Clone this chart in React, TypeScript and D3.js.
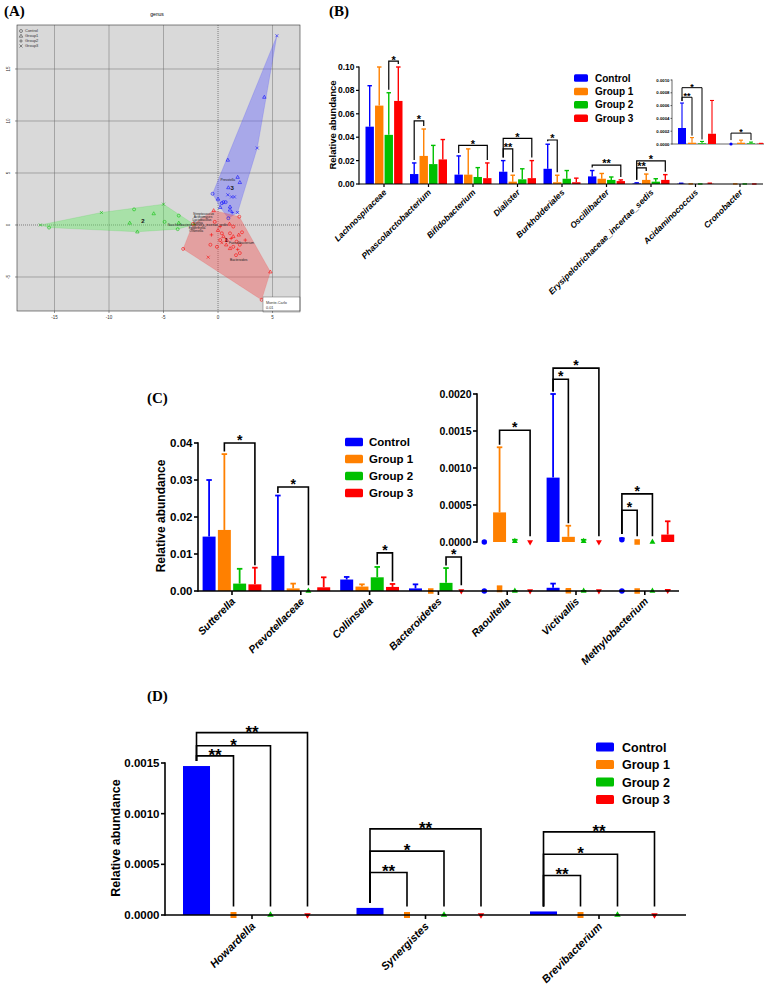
import React from 'react';
import * as d3 from 'd3';

const FONT = "'Liberation Sans', Arial, Helvetica, sans-serif";
const SERIF = "'Liberation Serif', 'Times New Roman', serif";

const groupNames = ['Control', 'Group 1', 'Group 2', 'Group 3'];
const groupColors = ['#0000ff', '#ff8000', '#00c000', '#ff0000'];
const groupSymbols = ['circle', 'square', 'triangle', 'triangleDown'];

// ---------------- Panel A (PCA-like scatter) ----------------
const aXTicks = [-15, -10, -5, 0, 5];
const aYTicks = [-5, 0, 5, 10, 15];
const aLegend = ['Control', 'Group1', 'Group2', 'Group3'];
// [x, y, shape] shape: 0 circle, 1 triangle, 2 plus, 3 cross
const aCluster3 = [
  [5.4, 18.2, 3], [4.25, 12.3, 1], [3.6, 7.4, 3], [0.9, 6.25, 1], [1.8, 4.6, 1], [2.0, 4.1, 1],
  [0.95, 3.6, 1], [-0.5, 3.0, 0], [0.9, 2.9, 3], [1.25, 2.7, 3], [1.5, 2.7, 3], [0.0, 2.5, 1],
  [0.35, 2.1, 0], [0.5, 2.2, 0], [0.7, 2.2, 0], [1.1, 1.75, 1], [1.1, 1.45, 1], [1.8, 1.2, 3],
  [0.95, 0.65, 0], [1.3, 1.2, 2], [0.2, 1.7, 1],
];
const aCluster2 = [
  [-16.3, 0.0, 3], [-15.5, -0.25, 0], [-10.7, 1.2, 3], [-7.7, 1.5, 0], [-5.9, 1.1, 1], [-5.0, 2.0, 3],
  [-8.1, 0.2, 1], [-7.4, -0.65, 1], [-4.9, 0.3, 0], [-3.6, 0.9, 0], [-3.6, 0.2, 1], [-3.7, -0.4, 0],
  [-2.2, 0.05, 2],
];
const aCluster1 = [
  [-0.4, 1.4, 1], [1.95, 0.8, 0], [4.8, -4.5, 1], [4.0, -7.2, 0], [-3.2, -2.3, 0], [-2.3, 0.1, 0],
  [-0.9, -3.1, 3], [-0.7, -1.9, 0], [-0.6, -0.95, 2], [0.0, -0.5, 1], [0.2, -0.15, 2], [0.35, -0.8, 0],
  [0.5, -1.1, 1], [0.8, -1.45, 1], [1.1, -0.8, 0], [1.2, -1.3, 2], [1.4, -1.1, 1], [1.7, -1.6, 0],
  [1.9, -0.95, 1], [2.2, -0.7, 0], [2.5, -1.45, 2], [1.4, -2.1, 0], [1.1, -2.25, 1], [1.8, -2.35, 2],
  [2.0, -2.7, 0], [1.65, -2.9, 0], [-0.1, -2.1, 0], [0.35, -1.7, 3], [-0.3, 0.3, 0], [1.05, 0.1, 1],
  [1.4, -0.15, 0], [0.2, -1.45, 0], [0.75, -1.9, 1], [2.0, -1.9, 0],
];
// [label, x, y]
const aTaxa = [
  ['Prevotella', 0.9, 4.3], ['Streptococcus', -1.33, 1.06], ['Actinomyces', -1.38, 0.77],
  ['Lactobacillus', -1.47, 0.48], ['Rothia', -1.83, 0.2], ['Saccharibacteria_genera_incertae_sedis', -1.88, -0.02],
  ['Eggerthella', -1.93, -0.29], ['Olsenella', -2.0, -0.58], ['Faecalibacterium', 2.15, -1.75], ['Bacteroides', 1.9, -3.37],
];
// [label, x, y]
const aClusterLabels = [['3', 1.3, 3.6], ['2', -6.9, 0.4], ['1', 0.75, -1.45]];

// ---------------- Panel B ----------------
const bCats = ['Lachnospiraceae', 'Phascolarctobacterium', 'Bifidobacterium', 'Dialister', 'Burkholderiales',
  'Oscillibacter', 'Erysipelotrichaceae_incertae_sedis', 'Acidaminococcus', 'Cronobacter'];
const bControlMean = [0.049, 0.0085, 0.008, 0.0105, 0.013, 0.0065, 0.0005, 0.00025, 0];
const bControlSD = [0.035, 0.0095, 0.016, 0.0095, 0.021, 0.005, 0.0005, 0.00039, 0];
const bGroup1Mean = [0.067, 0.024, 0.008, 0.002, 0.0015, 0.0045, 0.0035, 0.00002, 0.00002];
const bGroup1SD = [0.033, 0.023, 0.022, 0.0055, 0.006, 0.0045, 0.005, 0.00008, 0.00004];
const bGroup2Mean = [0.042, 0.017, 0.006, 0.004, 0.0045, 0.0035, 0.002, 0.00001, 0.00001];
const bGroup2SD = [0.036, 0.016, 0.008, 0.009, 0.007, 0.0025, 0.0025, 0.00003, 0.00002];
const bGroup3Mean = [0.071, 0.021, 0.005, 0.005, 0.0015, 0.0025, 0.0035, 0.00016, 0.000005];
const bGroup3SD = [0.029, 0.017, 0.013, 0.015, 0.0035, 0.001, 0.0045, 0.00052, 0.000005];
const bYTicks = [0, 0.02, 0.04, 0.06, 0.08, 0.1];
const bInsetCats = ['Acidaminococcus', 'Cronobacter'];
const bInsetYTicks = [0, 0.0002, 0.0004, 0.0006, 0.0008, 0.001];
// [category, from group, to group, bracket level, label]
const bBrackets = [
  ['Lachnospiraceae', 2, 3, 0.105, '*'],
  ['Phascolarctobacterium', 0, 1, 0.054, '*'],
  ['Bifidobacterium', 0, 3, 0.033, '*'],
  ['Dialister', 0, 1, 0.03, '**'],
  ['Dialister', 0, 3, 0.039, '*'],
  ['Burkholderiales', 0, 1, 0.0376, '*'],
  ['Oscillibacter', 0, 3, 0.0162, '**'],
  ['Erysipelotrichaceae_incertae_sedis', 0, 1, 0.0137, '**'],
  ['Erysipelotrichaceae_incertae_sedis', 0, 3, 0.0197, '*'],
];
const bInsetBrackets = [
  ['Acidaminococcus', 0, 1, 0.00073, '**'],
  ['Acidaminococcus', 0, 2, 0.00088, '*'],
  ['Cronobacter', 0, 2, 0.00017, '*'],
];

// ---------------- Panel C ----------------
const cCats = ['Sutterella', 'Prevotellaceae', 'Collinsella', 'Bacteroidetes', 'Raoultella', 'Victivallis', 'Methylobacterium'];
const cControlMean = [0.0147, 0.0095, 0.0031, 0.0007, 0, 0.00087, 0.00003];
const cControlSD = [0.0153, 0.0163, 0.0007, 0.0011, 0, 0.00113, 0.00002];
const cGroup1Mean = [0.0165, 0.0007, 0.0012, 0, 0.0004, 0.00007, 0];
const cGroup1SD = [0.0205, 0.0013, 0.0006, 0, 0.00088, 0.00015, 0];
const cGroup2Mean = [0.002, 0, 0.0037, 0.0022, 0.00001, 0.00001, 0];
const cGroup2SD = [0.004, 0, 0.0028, 0.004, 0.00002, 0.00002, 0];
const cGroup3Mean = [0.0018, 0.001, 0.0011, 0, 0, 0, 0.0001];
const cGroup3SD = [0.0045, 0.0027, 0.0008, 0, 0, 0, 0.00018];
const cYTicks = [0, 0.01, 0.02, 0.03, 0.04];
const cInsetCats = ['Raoultella', 'Victivallis', 'Methylobacterium'];
const cInsetYTicks = [0, 0.0005, 0.001, 0.0015, 0.002];
const cBrackets = [
  ['Sutterella', 1, 3, 0.04, '*'],
  ['Prevotellaceae', 0, 2, 0.0281, '*'],
  ['Collinsella', 2, 3, 0.0103, '*'],
  ['Bacteroidetes', 2, 3, 0.0092, '*'],
];
const cInsetBrackets = [
  ['Raoultella', 1, 3, 0.00151, '*'],
  ['Victivallis', 0, 1, 0.0022, '*'],
  ['Victivallis', 0, 3, 0.00235, '*'],
  ['Methylobacterium', 0, 1, 0.00043, '*'],
  ['Methylobacterium', 0, 2, 0.00065, '*'],
];

// ---------------- Panel D ----------------
const dCats = ['Howardella', 'Synergistes', 'Brevibacterium'];
const dControlMean = [0.00147, 0.00007, 0.000035];
const dGroup1Mean = [0, 0, 0];
const dGroup2Mean = [0, 0, 0];
const dGroup3Mean = [0, 0, 0];
const dNoSD = [0, 0, 0];
const dYTicks = [0, 0.0005, 0.001, 0.0015];
const dBrackets = [
  ['Howardella', 0, 1, 0.00157, '**'], ['Howardella', 0, 2, 0.00167, '*'], ['Howardella', 0, 3, 0.0018, '**'],
  ['Synergistes', 0, 1, 0.00042, '**'], ['Synergistes', 0, 2, 0.00063, '*'], ['Synergistes', 0, 3, 0.00085, '**'],
  ['Brevibacterium', 0, 1, 0.00039, '**'], ['Brevibacterium', 0, 2, 0.0006, '*'], ['Brevibacterium', 0, 3, 0.00082, '**'],
];

// ---------------- helpers ----------------
function symbolD(kind: string, size: number) {
  if (kind === 'circle') return d3.symbol(d3.symbolCircle, size * size * 0.785)() as string;
  if (kind === 'square') return d3.symbol(d3.symbolSquare, size * size)() as string;
  return d3.symbol(d3.symbolTriangle, size * size * 0.5)() as string;
}

type BarOpts = {
  capW: number; errW: number; markerSize: number; markerMinPx: number;
};

function catCenter(xb: any, cat: string) {
  return xb(cat) + xb.bandwidth() / 2;
}

function isMarker(y: any, m: number, o: BarOpts) {
  return o.markerSize > 0 && (y(0) - y(m)) < o.markerMinPx;
}

function Bars({ cats, allCats, means, sds, xb, inner, y, o }: any) {
  const els: any[] = [];
  cats.forEach((cat: string) => {
    const ci = allCats.indexOf(cat);
    const c = catCenter(xb, cat);
    groupNames.forEach((g, si) => {
      const m = means[si][ci];
      const sd = sds[si][ci];
      const bx = c + inner(g);
      const bw = inner.bandwidth();
      const cx = bx + bw / 2;
      const col = groupColors[si];
      const mk = isMarker(y, m, o);
      if (sd > 0 && o.errW > 0) {
        els.push(<line key={`e${cat}${si}`} x1={cx} x2={cx} y1={y(m)} y2={y(m + sd)} stroke={col} strokeWidth={o.errW} />);
        els.push(<line key={`c${cat}${si}`} x1={cx - o.capW / 2} x2={cx + o.capW / 2} y1={y(m + sd)} y2={y(m + sd)} stroke={col} strokeWidth={o.errW} />);
      }
      if (mk) {
        const kind = groupSymbols[si];
        els.push(<path key={`m${cat}${si}`} d={symbolD(kind, o.markerSize)}
          transform={`translate(${cx},${y(m)})${kind === 'triangleDown' ? ' rotate(180)' : ''}`} fill={col} />);
      } else if (y(0) - y(m) > 0) {
        els.push(<rect key={`b${cat}${si}`} x={bx} y={y(m)} width={bw} height={y(0) - y(m)} fill={col} />);
      }
    });
  });
  return <g>{els}</g>;
}

function Brackets({ list, allCats, means, sds, xb, inner, y, o, pad, lineW, starFont, starDy }: any) {
  return (
    <g>
      {list.map((b: any, i: number) => {
        const [cat, a, bb, level, label] = b;
        const ci = allCats.indexOf(cat);
        const c = catCenter(xb, cat);
        const xa = c + inner(groupNames[a]) + inner.bandwidth() / 2;
        const xbb = c + inner(groupNames[bb]) + inner.bandwidth() / 2;
        const low = (si: number) => {
          const m = means[si][ci];
          const sd = sds[si][ci];
          let py = y(m + sd);
          if (isMarker(y, m, o)) py = Math.min(py, y(m) - o.markerSize * 0.6);
          return py - pad;
        };
        const ly = y(level);
        return (
          <g key={i}>
            <path d={`M${xa},${low(a)}V${ly}H${xbb}V${low(bb)}`} fill="none" stroke="#000" strokeWidth={lineW} />
            <text x={(xa + xbb) / 2} y={ly + starDy} textAnchor="middle" fontFamily={FONT} fontWeight={700} fontSize={starFont}>{label}</text>
          </g>
        );
      })}
    </g>
  );
}

function YAxis({ y, ticks, x, fmt, fontSize, tickLen, gap, lineW }: any) {
  return (
    <g>
      <line x1={x} x2={x} y1={y(ticks[0])} y2={y(ticks[ticks.length - 1])} stroke="#000" strokeWidth={lineW} strokeLinecap="square" />
      {ticks.map((t: number) => (
        <g key={t}>
          <line x1={x - tickLen} x2={x} y1={y(t)} y2={y(t)} stroke="#000" strokeWidth={lineW} />
          <text x={x - tickLen - gap} y={y(t)} dy="0.36em" textAnchor="end" fontFamily={FONT} fontWeight={700} fontSize={fontSize}>{fmt(t)}</text>
        </g>
      ))}
    </g>
  );
}

function XAxis({ xb, cats, y0, x0, x1, lineW, tickLen, fontSize, ldx, ldy }: any) {
  return (
    <g>
      <line x1={x0} x2={x1} y1={y0} y2={y0} stroke="#000" strokeWidth={lineW} />
      {cats.map((c: string) => {
        const cx = catCenter(xb, c);
        return (
          <g key={c}>
            <line x1={cx} x2={cx} y1={y0} y2={y0 + tickLen} stroke="#000" strokeWidth={lineW} />
            <text transform={`translate(${cx + ldx},${y0 + ldy}) rotate(-45)`} textAnchor="end" fontFamily={FONT}
              fontWeight={700} fontStyle="italic" fontSize={fontSize}>{c}</text>
          </g>
        );
      })}
    </g>
  );
}

function Legend({ x, y0, step, w, h, fontSize, gap }: any) {
  return (
    <g>
      {groupNames.map((g, i) => (
        <g key={g}>
          <rect x={x} y={y0 + i * step - h / 2} width={w} height={h} rx={1.5} fill={groupColors[i]} />
          <text x={x + w + gap} y={y0 + i * step} dy="0.36em" fontFamily={FONT} fontWeight={700} fontSize={fontSize}>{g}</text>
        </g>
      ))}
    </g>
  );
}

function YLabel({ x, y, fontSize }: any) {
  return (
    <text transform={`translate(${x},${y}) rotate(-90)`} textAnchor="middle" fontFamily={FONT} fontWeight={700} fontSize={fontSize}>
      Relative abundance
    </text>
  );
}

// ---------------- Panels ----------------
function aMarker(shape: number, cx: number, cy: number, color: string, key: string) {
  const r = 1.5;
  const sw = 0.55;
  if (shape === 0) return <circle key={key} cx={cx} cy={cy} r={r} fill="none" stroke={color} strokeWidth={sw} />;
  if (shape === 1) return <path key={key} d={`M${cx},${cy - r * 1.2}L${cx + r * 1.15},${cy + r * 0.8}L${cx - r * 1.15},${cy + r * 0.8}Z`} fill="none" stroke={color} strokeWidth={sw} />;
  if (shape === 2) return <path key={key} d={`M${cx - r * 1.2},${cy}H${cx + r * 1.2}M${cx},${cy - r * 1.2}V${cy + r * 1.2}`} stroke={color} strokeWidth={sw} />;
  return <path key={key} d={`M${cx - r},${cy - r}L${cx + r},${cy + r}M${cx - r},${cy + r}L${cx + r},${cy - r}`} stroke={color} strokeWidth={sw} />;
}

function PanelA() {
  const x = d3.scaleLinear().domain([-18.44, 7.52]).range([17, 300]);
  const y = d3.scaleLinear().domain([-8.27, 19.23]).range([311, 25]);
  const clusters = [
    { pts: aCluster3, fill: 'rgba(100,100,255,0.42)', col: '#0000ff' },
    { pts: aCluster2, fill: 'rgba(100,235,100,0.42)', col: '#00c000' },
    { pts: aCluster1, fill: 'rgba(240,80,80,0.42)', col: '#ff0000' },
  ];
  const [x0, x1] = x.range();
  const [y1, y0] = y.range();
  return (
    <g>
      <text x={4} y={16} fontFamily={SERIF} fontWeight={700} fontSize={15}>(A)</text>
      <text x={157} y={16} textAnchor="middle" fontFamily={FONT} fontSize={5}>genus</text>
      <rect x={x0} y={y0} width={x1 - x0} height={y1 - y0} fill="#d9d9d9" />
      {aXTicks.filter(t => t !== 0).map(t => (
        <line key={`gx${t}`} x1={x(t)} x2={x(t)} y1={y0} y2={y1} stroke="#6e6e6e" strokeWidth={0.5} />
      ))}
      {aYTicks.filter(t => t !== 0).map(t => (
        <line key={`gy${t}`} x1={x0} x2={x1} y1={y(t)} y2={y(t)} stroke="#6e6e6e" strokeWidth={0.5} />
      ))}
      <line x1={x(0)} x2={x(0)} y1={y0} y2={y1} stroke="#222" strokeWidth={0.5} strokeDasharray="1,1" />
      <line x1={x0} x2={x1} y1={y(0)} y2={y(0)} stroke="#222" strokeWidth={0.5} strokeDasharray="1,1" />
      {clusters.map((c, i) => {
        const hull = d3.polygonHull(c.pts.map(p => [x(p[0]), y(p[1])] as [number, number]));
        return <path key={`h${i}`} d={`M${hull!.map(p => p.join(',')).join('L')}Z`} fill={c.fill} stroke={c.col} strokeOpacity={0.3} strokeWidth={0.4} />;
      })}
      {clusters.map((c, i) => (
        <g key={`p${i}`}>{c.pts.map((p, j) => aMarker(p[2], x(p[0]), y(p[1]), c.col, `${i}-${j}`))}</g>
      ))}
      {aTaxa.map(t => (
        <text key={t[0] as string} x={x(t[1] as number)} y={y(t[2] as number)} dy="0.35em" textAnchor="middle" fontFamily={FONT} fontSize={3.3} fill="#222">{t[0]}</text>
      ))}
      {aClusterLabels.map((t, i) => (
        <text key={`cl${i}`} x={x(t[1] as number)} y={y(t[2] as number)} dy="0.35em" textAnchor="middle" fontFamily={FONT} fontWeight={700} fontSize={6} fill={i === 2 ? '#5a0000' : '#111'}>{t[0]}</text>
      ))}
      {aLegend.map((l, i) => (
        <g key={l}>
          {aMarker(i, 21, 31 + i * 5, '#333', `lg${i}`)}
          <text x={25} y={31 + i * 5} dy="0.35em" fontFamily={FONT} fontSize={4} fill="#333">{l}</text>
        </g>
      ))}
      <rect x={263} y={297} width={37} height={15} fill="#fff" stroke="#444" strokeWidth={0.4} />
      <text x={266} y={304} fontFamily={FONT} fontSize={3.8} fill="#333">Monte-Carlo</text>
      <text x={266} y={309} fontFamily={FONT} fontSize={3.8} fill="#333">0.01</text>
      <rect x={x0} y={y0} width={x1 - x0} height={y1 - y0} fill="none" stroke="#333" strokeWidth={0.6} />
      {aXTicks.map(t => (
        <g key={`tx${t}`}>
          <line x1={x(t)} x2={x(t)} y1={y1} y2={y1 + 2} stroke="#333" strokeWidth={0.5} />
          <text x={x(t)} y={y1 + 8} textAnchor="middle" fontFamily={FONT} fontSize={4.5} fill="#333">{t}</text>
        </g>
      ))}
      {aYTicks.map(t => (
        <g key={`ty${t}`}>
          <line x1={x0 - 2} x2={x0} y1={y(t)} y2={y(t)} stroke="#333" strokeWidth={0.5} />
          <text transform={`translate(${x0 - 7},${y(t)}) rotate(-90)`} textAnchor="middle" fontFamily={FONT} fontSize={4.5} fill="#333">{t}</text>
        </g>
      ))}
    </g>
  );
}

function PanelB() {
  const y = d3.scaleLinear().domain([0, 0.1]).range([184, 67]);
  const xb = d3.scaleBand<string>().domain(bCats).range([361.75, 762.25]);
  const inner = d3.scaleBand<string>().domain(groupNames).range([-18.5, 18.5]).paddingInner(0.12);
  const means = [bControlMean, bGroup1Mean, bGroup2Mean, bGroup3Mean];
  const sds = [bControlSD, bGroup1SD, bGroup2SD, bGroup3SD];
  const o: BarOpts = { capW: 4.5, errW: 1.4, markerSize: 0, markerMinPx: -1 };
  // inset
  const yi = d3.scaleLinear().domain([0, 0.001]).range([144, 80]);
  const xi = d3.scaleBand<string>().domain(bInsetCats).range([672.5, 770.5]);
  const inI = d3.scaleBand<string>().domain(groupNames).range([-19, 19]).paddingInner(0.2);
  const oi: BarOpts = { capW: 4, errW: 1.1, markerSize: 3.2, markerMinPx: 0.2 };
  const fmt2 = d3.format('.2f');
  const fmt4 = d3.format('.4f');
  return (
    <g>
      <text x={329} y={16} fontFamily={SERIF} fontWeight={700} fontSize={15}>(B)</text>
      <YLabel x={335.5} y={125} fontSize={9.5} />
      <Bars cats={bCats} allCats={bCats} means={means} sds={sds} xb={xb} inner={inner} y={y} o={o} />
      <Brackets list={bBrackets} allCats={bCats} means={means} sds={sds} xb={xb} inner={inner} y={y} o={o}
        pad={3} lineW={1.2} starFont={11} starDy={2.4} />
      <YAxis y={y} ticks={bYTicks} x={359} fmt={fmt2} fontSize={8.5} tickLen={3} gap={1.5} lineW={1.2} />
      <XAxis xb={xb} cats={bCats} y0={184} x0={359} x1={763} lineW={1.2} tickLen={3} fontSize={8.5} ldx={3} ldy={9} />
      <Legend x={574} y0={78} step={13.4} w={14} h={7.5} fontSize={10} gap={7} />
      <line x1={672} x2={764} y1={144} y2={144} stroke="#000" strokeWidth={0.6} />
      <Bars cats={bInsetCats} allCats={bCats} means={means} sds={sds} xb={xi} inner={inI} y={yi} o={oi} />
      <Brackets list={bInsetBrackets} allCats={bCats} means={means} sds={sds} xb={xi} inner={inI} y={yi} o={oi}
        pad={2} lineW={1} starFont={9} starDy={2} />
      <YAxis y={yi} ticks={bInsetYTicks} x={672} fmt={fmt4} fontSize={4.3} tickLen={1.5} gap={1} lineW={0.6} />
    </g>
  );
}

function PanelC() {
  const y = d3.scaleLinear().domain([0, 0.04]).range([591, 443]);
  const xb = d3.scaleBand<string>().domain(cCats).range([197.6, 679.2]);
  const inner = d3.scaleBand<string>().domain(groupNames).range([-29.4, 29.4]).paddingInner(0.15);
  const means = [cControlMean, cGroup1Mean, cGroup2Mean, cGroup3Mean];
  const sds = [cControlSD, cGroup1SD, cGroup2SD, cGroup3SD];
  const o: BarOpts = { capW: 5.5, errW: 1.8, markerSize: 5.5, markerMinPx: 2.5 };
  const yi = d3.scaleLinear().domain([0, 0.002]).range([542, 394]);
  const fmt2 = d3.format('.2f');
  const fmt4 = d3.format('.4f');
  return (
    <g>
      <text x={147} y={403} fontFamily={SERIF} fontWeight={700} fontSize={15}>(C)</text>
      <YLabel x={165} y={516} fontSize={12} />
      <Bars cats={cCats} allCats={cCats} means={means} sds={sds} xb={xb} inner={inner} y={y} o={o} />
      <Brackets list={cBrackets} allCats={cCats} means={means} sds={sds} xb={xb} inner={inner} y={y} o={o}
        pad={2.5} lineW={1.6} starFont={14} starDy={2} />
      <YAxis y={y} ticks={cYTicks} x={198} fmt={fmt2} fontSize={11.5} tickLen={4} gap={1.5} lineW={1.6} />
      <XAxis xb={xb} cats={cCats} y0={591} x0={198} x1={679} lineW={1.6} tickLen={4} fontSize={10.5} ldx={4} ldy={11} />
      <Legend x={345} y0={442} step={17} w={18} h={8.5} fontSize={11.5} gap={6} />
      <Bars cats={cInsetCats} allCats={cCats} means={means} sds={sds} xb={xb} inner={inner} y={yi} o={o} />
      <Brackets list={cInsetBrackets} allCats={cCats} means={means} sds={sds} xb={xb} inner={inner} y={yi} o={o}
        pad={2.5} lineW={1.6} starFont={14} starDy={2} />
      <YAxis y={yi} ticks={cInsetYTicks} x={477} fmt={fmt4} fontSize={10.5} tickLen={4} gap={1.5} lineW={1.6} />
    </g>
  );
}

function PanelD() {
  const y = d3.scaleLinear().domain([0, 0.0015]).range([915, 763]);
  const xb = d3.scaleBand<string>().domain(dCats).range([165.25, 685.75]);
  const inner = d3.scaleBand<string>().domain(groupNames).range([-69, 69]).paddingInner(0.27);
  const means = [dControlMean, dGroup1Mean, dGroup2Mean, dGroup3Mean];
  const sds = [dNoSD, dNoSD, dNoSD, dNoSD];
  const o: BarOpts = { capW: 0, errW: 0, markerSize: 6, markerMinPx: 1 };
  const fmt4 = d3.format('.4f');
  return (
    <g>
      <text x={147} y={701} fontFamily={SERIF} fontWeight={700} fontSize={15}>(D)</text>
      <YLabel x={119.5} y={838} fontSize={12.5} />
      <Bars cats={dCats} allCats={dCats} means={means} sds={sds} xb={xb} inner={inner} y={y} o={o} />
      <Brackets list={dBrackets} allCats={dCats} means={means} sds={sds} xb={xb} inner={inner} y={y} o={o}
        pad={5} lineW={1.6} starFont={17} starDy={5} />
      <YAxis y={y} ticks={dYTicks} x={165} fmt={fmt4} fontSize={11.5} tickLen={4} gap={1.5} lineW={1.6} />
      <XAxis xb={xb} cats={dCats} y0={915} x0={165} x1={686} lineW={1.6} tickLen={4} fontSize={11} ldx={4} ldy={12} />
      <Legend x={596} y0={747} step={17.5} w={18} h={9} fontSize={12.5} gap={8} />
    </g>
  );
}

export default function App() {
  return (
    <div style={{ position: 'absolute', left: 0, top: 0 }}>
      <svg width={764} height={989} viewBox="0 0 764 989" style={{ display: 'block', background: '#fff' }}>
        <PanelA />
        <PanelB />
        <PanelC />
        <PanelD />
      </svg>
    </div>
  );
}
